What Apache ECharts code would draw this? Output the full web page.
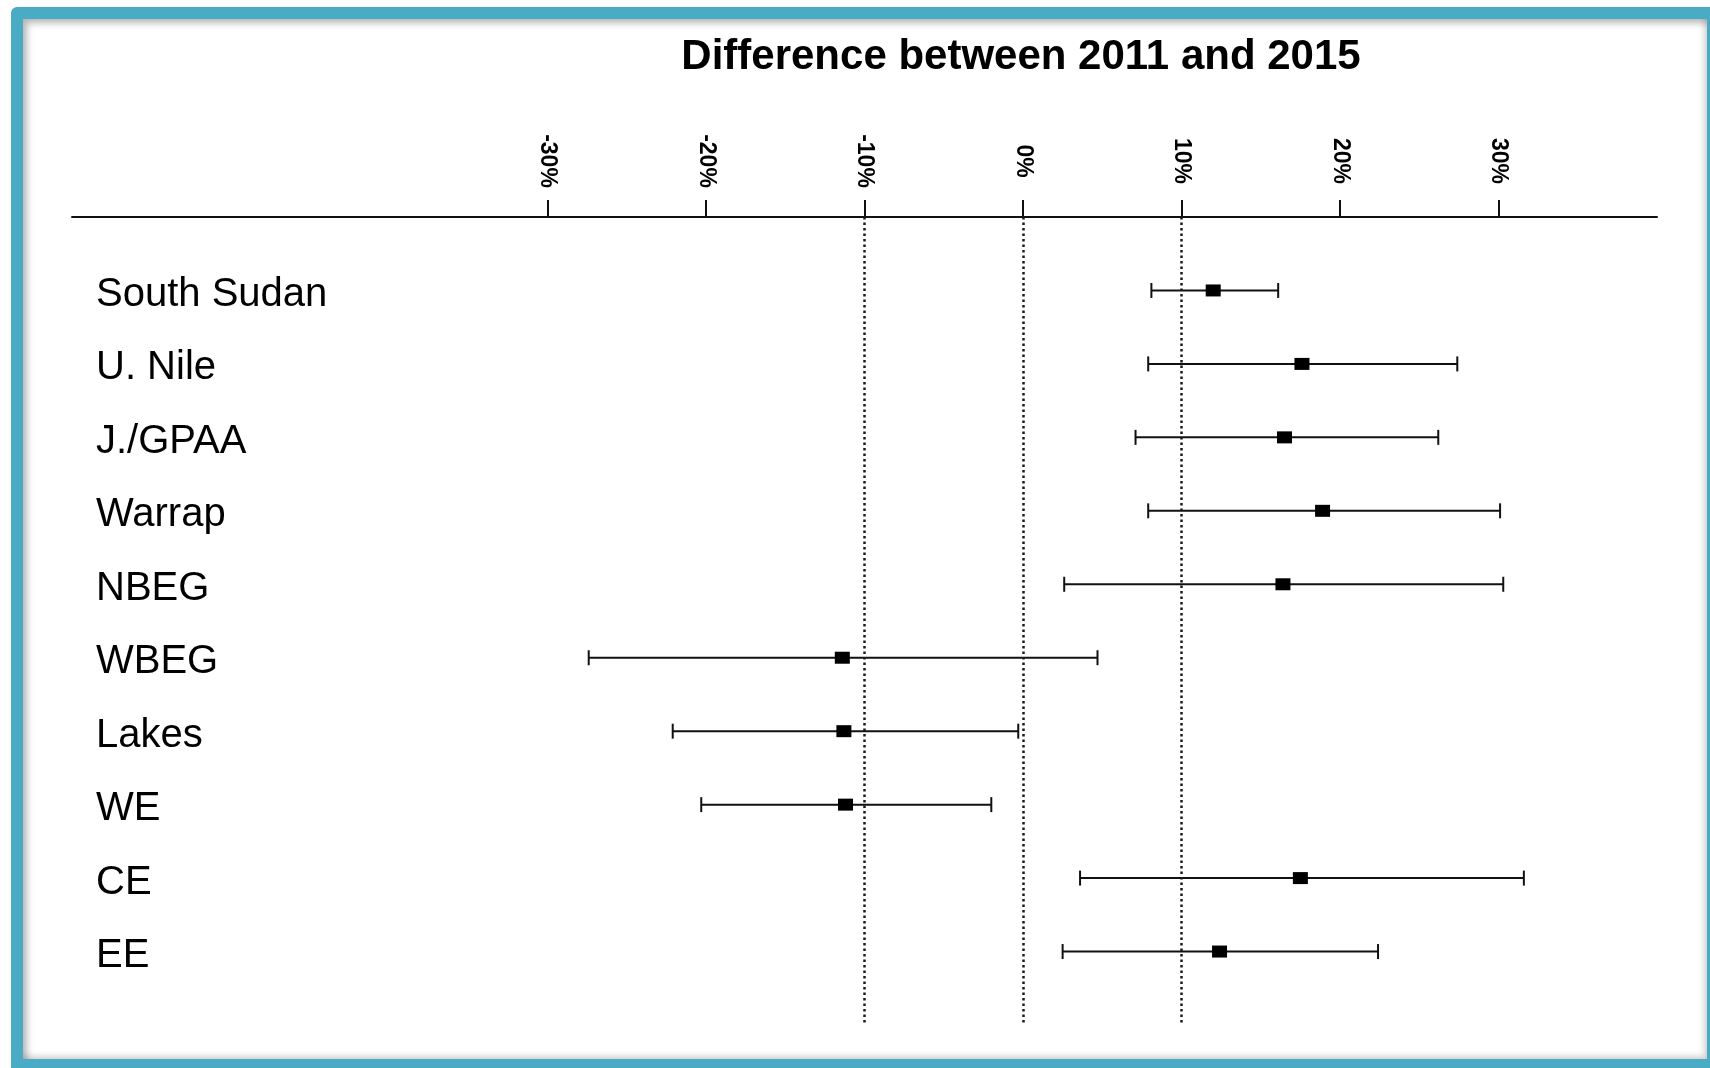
<!DOCTYPE html>
<html>
<head>
<meta charset="utf-8">
<title>Difference between 2011 and 2015</title>
<script src="https://cdn.jsdelivr.net/npm/echarts@6/dist/echarts.min.js"></script>
<style>
  html, body { margin: 0; padding: 0; background: #fff; width: 1710px; height: 1068px; overflow: hidden; }
  #frame { position: absolute; left: 11px; top: 7px; width: 1699px; height: 1061px; background: #4aabc5; border-radius: 6px 0 0 0; }
  #panel { position: absolute; left: 23px; top: 19px; width: 1684px; height: 1040px; background: #fff;
           box-shadow: inset 4px 4px 7px rgba(0,0,0,0.28), inset -3px -3px 6px rgba(0,0,0,0.16); }
  #chart { position: absolute; left: 0; top: 0; width: 1710px; height: 1068px; }
</style>
</head>
<body>
<div id="frame"></div>
<div id="panel"></div>
<div id="chart"></div>
<script>
// Regions, top to bottom
const regions = ['South Sudan', 'U. Nile', 'J./GPAA', 'Warrap', 'NBEG', 'WBEG', 'Lakes', 'WE', 'CE', 'EE'];
// Point estimate of the change (percentage points)
const estimate   = [12.0, 17.6, 16.5, 18.9, 16.4, -11.4, -11.3, -11.2, 17.5, 12.4];
// Confidence interval bounds
const lowerBound = [ 8.1,  7.9,  7.1,  7.9,  2.6, -27.4, -22.1, -20.3,  3.6,  2.5];
const upperBound = [16.1, 27.4, 26.2, 30.1, 30.3,   4.7,  -0.3,  -2.0, 31.6, 22.4];
// Tick labels on the top axis and dotted reference lines
const tickValues = [-30, -20, -10, 0, 10, 20, 30];
const referenceLines = [-10, 0, 10];

const FONT = '"Liberation Sans", Arial, Helvetica, sans-serif';
const INK = '#111';

const chart = echarts.init(document.getElementById('chart'), null, { renderer: 'canvas' });

const option = {
  backgroundColor: 'transparent',
  animation: false,
  title: {
    text: 'Difference between 2011 and 2015',
    left: 1021,
    top: 36,
    textAlign: 'center',
    padding: 0,
    textStyle: { fontFamily: FONT, fontSize: 42, fontWeight: 'bold', color: '#000' }
  },
  grid: { left: 72, right: 53, top: 217, bottom: 43, containLabel: false },
  xAxis: {
    type: 'value',
    position: 'top',
    min: -60,
    max: 40,
    interval: 10,
    splitLine: { show: false },
    axisLine: { show: true, onZero: false, lineStyle: { color: INK, width: 2 } },
    axisTick: { show: true, customValues: tickValues, length: 17, lineStyle: { color: INK, width: 2 } },
    axisLabel: {
      customValues: tickValues,
      rotate: 90,
      align: 'center',
      verticalAlign: 'middle',
      margin: 56,
      fontFamily: FONT,
      fontSize: 23,
      fontWeight: 'bold',
      color: '#000',
      formatter: v => v + '%'
    }
  },
  yAxis: {
    type: 'category',
    data: [''].concat(regions, ['']),
    boundaryGap: false,
    inverse: true,
    axisLine: { show: false },
    axisTick: { show: false },
    splitLine: { show: false },
    axisLabel: {
      inside: true,
      interval: 0,
      margin: 24,
      align: 'left',
      formatter: v => v ? '{r|' + v + '}' : '',
      rich: {
        r: { fontFamily: FONT, fontSize: 40, color: '#000', padding: [9, 0, 0, 0] }
      }
    }
  },
  series: [{
    type: 'custom',
    silent: true,
    encode: { x: [0, 2, 3], y: 1 },
    data: regions.map((r, i) => [estimate[i], i + 1, lowerBound[i], upperBound[i]]),
    renderItem: function (params, api) {
      const row = api.value(1);
      const mid = api.coord([api.value(0), row]);
      const lo = api.coord([api.value(2), row]);
      const hi = api.coord([api.value(3), row]);
      const cap = 7.5;
      const stroke = { stroke: INK, lineWidth: 2 };
      return {
        type: 'group',
        children: [
          { type: 'line', shape: { x1: lo[0], y1: lo[1], x2: hi[0], y2: hi[1] }, style: stroke },
          { type: 'line', shape: { x1: lo[0], y1: lo[1] - cap, x2: lo[0], y2: lo[1] + cap }, style: stroke },
          { type: 'line', shape: { x1: hi[0], y1: hi[1] - cap, x2: hi[0], y2: hi[1] + cap }, style: stroke },
          { type: 'rect', shape: { x: mid[0] - 7.5, y: mid[1] - 6, width: 15, height: 12 }, style: { fill: '#000' } }
        ]
      };
    },
    markLine: {
      silent: true,
      symbol: 'none',
      label: { show: false },
      lineStyle: { type: [2.5, 3], width: 2.5, color: '#1a1a1a' },
      data: referenceLines.map(v => ({ xAxis: v }))
    }
  }]
};

chart.setOption(option);
</script>
</body>
</html>
